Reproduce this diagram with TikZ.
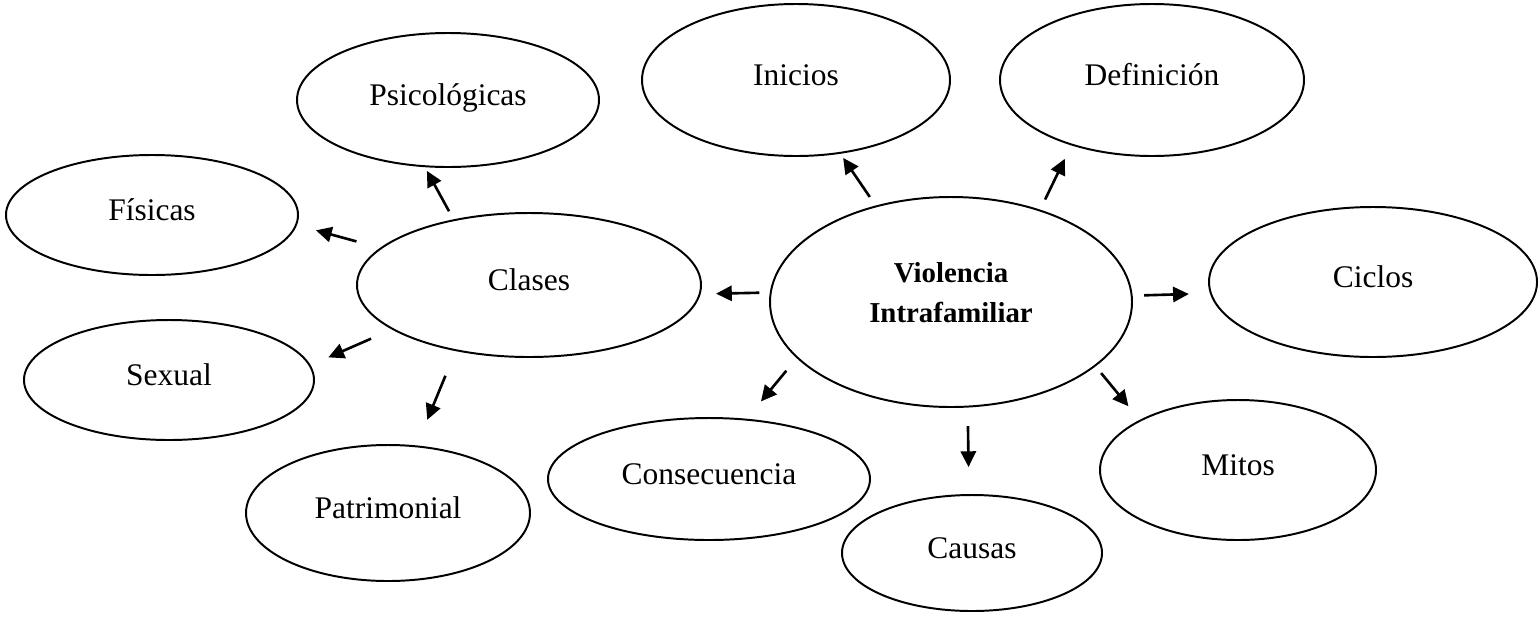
\documentclass[tikz,border=0pt]{standalone}
\usepackage{fontspec}
\setmainfont{Liberation Serif}
\usetikzlibrary{shapes.geometric, arrows.meta}
\newcommand{\pxu}{0.01339cm}

\begin{document}
\begin{tikzpicture}[x=\pxu, y=-\pxu,
    bub/.style 2 args={ellipse, draw, line width=0.75pt, inner sep=0pt, minimum width=#1*\pxu, minimum height=#2*\pxu, font=\fontsize{12}{14}\selectfont, text height=0.7em, text depth=0.25em},
    arr/.style 2 args={line width=1pt, -{Triangle[length=6pt, width=5.8pt]}, shorten <=#1*\pxu, shorten >=#2*\pxu}]
    \useasboundingbox (0,0) rectangle (1539,617);
    \node[bub={362}{210}, font=\fontsize{11}{15}\selectfont\bfseries, align=center, text height=22.5pt, text depth=7.2pt] (vi) at (951,302) {Violencia\\Intrafamiliar};
    \node[bub={308}{152}] (ini) at (796,80) {Inicios};
    \node[bub={304}{152}] (def) at (1152,80) {Definición};
    \node[bub={344}{144}] (cla) at (529,285) {Clases};
    \node[bub={302}{134}] (psi) at (448,100) {Psicológicas};
    \node[bub={292}{120}] (fis) at (152,215) {Físicas};
    \node[bub={290}{120}] (sex) at (169,380) {Sexual};
    \node[bub={284}{136}] (pat) at (388,513) {Patrimonial};
    \node[bub={322}{122}] (con) at (709,479) {Consecuencia};
    \node[bub={260}{116}] (cau) at (972,553) {Causas};
    \node[bub={276}{140}] (mit) at (1238,470) {Mitos};
    \node[bub={328}{150}] (cic) at (1373,282) {Ciclos};
    \draw[arr={10.4}{5}] (vi.128.7) -- (ini.301.3);
    \draw[arr={11.2}{14.9}] (vi.46.8) -- (def.219.4);
    \draw[arr={10.5}{15.4}] (vi.177.5) -- (cla.357);
    \draw[arr={16.3}{22.4}] (vi.200.9) -- (con.58.1);
    \draw[arr={18.5}{27}] (vi.279.8) -- (cau.93);
    \draw[arr={8.7}{17.6}] (vi.336.4) -- (mit.153.2);
    \draw[arr={11.5}{21.1}] (vi.2.5) -- (cic.184.2);
    \draw[arr={9.2}{4.2}] (cla.139) -- (psi.251.6);
    \draw[arr={24.5}{19.7}] (cla.166.3) -- (fis.356.2);
    \draw[arr={22.8}{19.4}] (cla.198) -- (sex.6.3);
    \draw[arr={26.7}{27.7}] (cla.222.6) -- (pat.67.2);
\end{tikzpicture}
\end{document}
